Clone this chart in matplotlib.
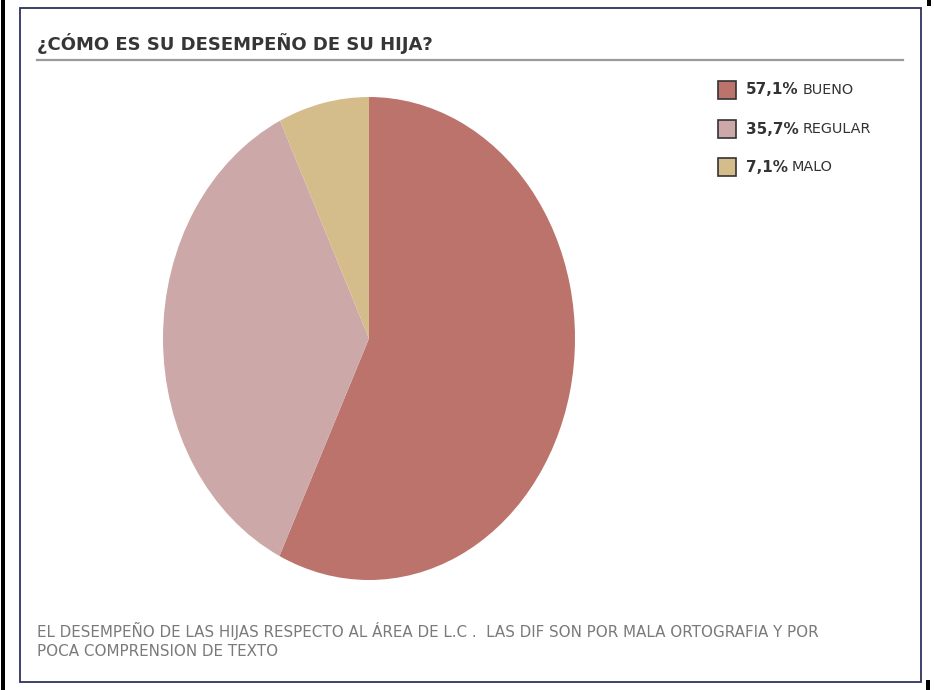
import matplotlib
matplotlib.use("Agg")
import matplotlib.pyplot as plt
from matplotlib.patches import Rectangle
from matplotlib.lines import Line2D
from matplotlib.text import Annotation

# ---- data ----
categories = ["BUENO", "REGULAR", "MALO"]
values = [57.1, 35.7, 7.1]
pct_labels = ["57,1%", "35,7%", "7,1%"]
colors = ["#bb736b", "#cca9a8", "#d5bd8b"]
title = "¿CÓMO ES SU DESEMPEÑO DE SU HIJA?"
footer_lines = [
    "EL DESEMPEÑO DE LAS HIJAS RESPECTO AL ÁREA DE L.C .  LAS DIF SON POR MALA ORTOGRAFIA Y POR",
    "POCA COMPRENSION DE TEXTO",
]

W, H = 934, 690
fig = plt.figure(figsize=(W / 100, H / 100), dpi=100)
fig.patch.set_facecolor("white")


def fx(x):
    return x / W


def fy(y):
    return 1 - y / H


# outer screenshot frame bits
fig.add_artist(Rectangle((fx(1), fy(690)), 4 / W, 1, transform=fig.transFigure,
                         facecolor="black", edgecolor="none"))
fig.add_artist(Rectangle((fx(927), fy(6)), 4 / W, 6 / H, transform=fig.transFigure,
                         facecolor="black", edgecolor="none"))
fig.add_artist(Rectangle((fx(926), fy(690)), 4 / W, 10 / H, transform=fig.transFigure,
                         facecolor="black", edgecolor="none"))
# inner box
fig.add_artist(Rectangle((fx(20), fy(682)), (921 - 20) / W, (682 - 8) / H, transform=fig.transFigure,
                         facecolor="none", edgecolor="#2e3360", linewidth=1.3))

# title
fig.text(fx(37), fy(44), title, fontsize=13, fontweight="bold", color="#363636",
         va="center", ha="left", family="DejaVu Sans")
fig.add_artist(Line2D([fx(37), fx(903)], [fy(60), fy(60)], transform=fig.transFigure,
                      color="#9a9a9a", linewidth=1.6))

# pie
ax = fig.add_axes([fx(163), fy(580), (575 - 163) / W, (580 - 97) / H])
ax.pie(values, colors=colors, startangle=90, counterclock=False, radius=1,
       wedgeprops=dict(linewidth=0))
ax.set_aspect("auto")
ax.set_xlim(-1, 1)
ax.set_ylim(-1, 1)
ax.axis("off")

# legend
leg_y = [90, 129, 167]
for i, (cat, pct, col) in enumerate(zip(categories, pct_labels, colors)):
    y = leg_y[i]
    fig.add_artist(Rectangle((fx(718), fy(y + 9)), 18 / W, 18 / H, transform=fig.transFigure,
                             facecolor=col, edgecolor="#333333", linewidth=1.2))
    t = fig.text(fx(746), fy(y), pct, fontsize=11, fontweight="bold", color="#333333",
                 va="center", ha="left", family="DejaVu Sans")
    fig.add_artist(Annotation(
        cat, xy=(1, 0.5), xycoords=t, xytext=(4, 0), textcoords="offset pixels",
        fontsize=10.4, color="#333333", va="center", ha="left", family="DejaVu Sans"))

# footer
for j, line in enumerate(footer_lines):
    fig.text(fx(37), fy(631 + 20 * j), line, fontsize=10.9, color="#7a7a7a", va="center",
             ha="left", family="DejaVu Sans")

fig.savefig("out.png", dpi=100, facecolor="white")
